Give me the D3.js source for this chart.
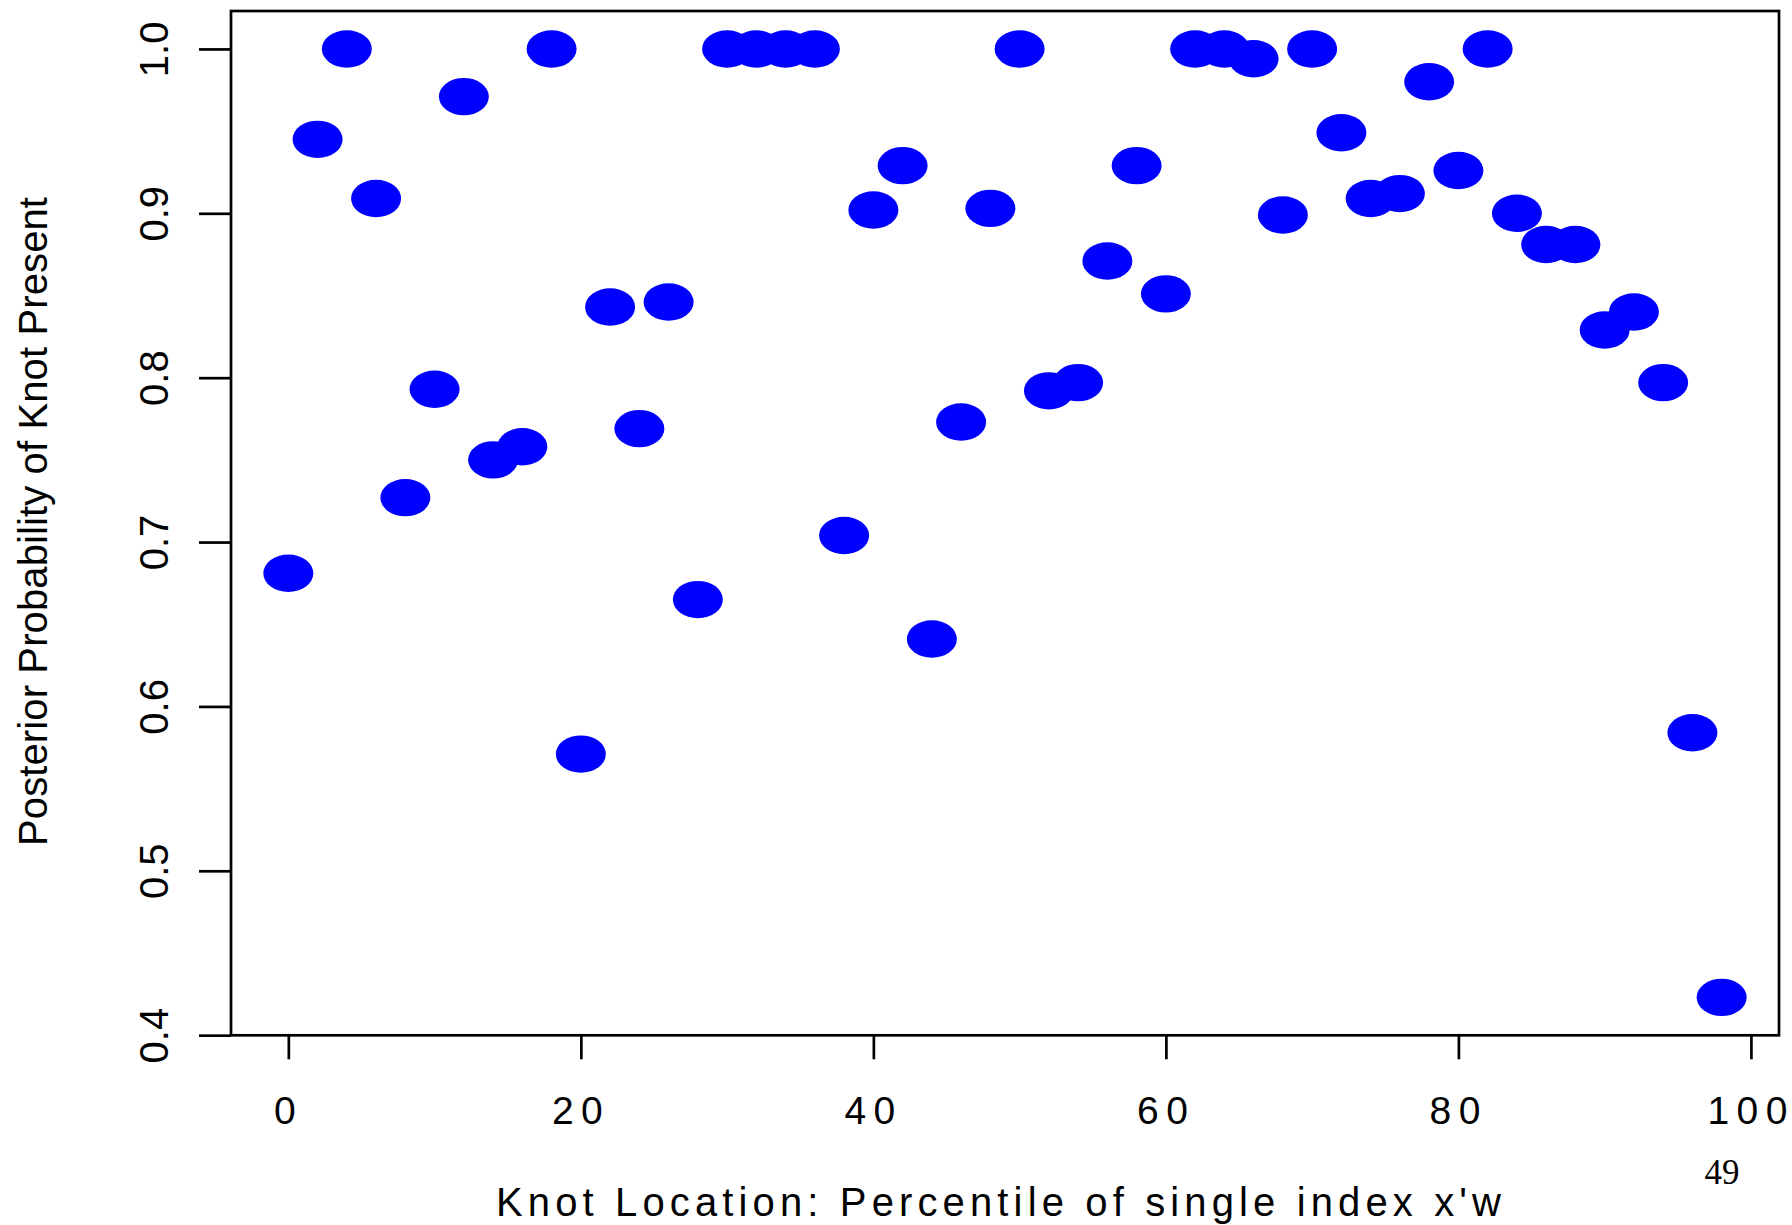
<!DOCTYPE html>
<html>
<head>
<meta charset="utf-8">
<script src="https://cdn.jsdelivr.net/npm/d3@7"></script>
<style>
  html, body { margin: 0; padding: 0; background: #fff; }
  svg { display: block; }
</style>
</head>
<body>
<script>
// ---- data ----
const knotLocation = [0, 2, 4, 6, 8, 10, 12, 14, 16, 18,
                      20, 22, 24, 26, 28, 30, 32, 34, 36, 38,
                      40, 42, 44, 46, 48, 50, 52, 54, 56, 58,
                      60, 62, 64, 66, 68, 70, 72, 74, 76, 78,
                      80, 82, 84, 86, 88, 90, 92, 94, 96, 98];
const posteriorProb = [0.681, 0.945, 1.000, 0.909, 0.727, 0.793, 0.971, 0.750, 0.758, 1.000,
                       0.571, 0.843, 0.769, 0.846, 0.665, 1.000, 1.000, 1.000, 1.000, 0.704,
                       0.902, 0.929, 0.641, 0.773, 0.903, 1.000, 0.792, 0.797, 0.871, 0.929,
                       0.851, 1.000, 1.000, 0.994, 0.899, 1.000, 0.949, 0.909, 0.912, 0.980,
                       0.926, 1.000, 0.900, 0.881, 0.881, 0.829, 0.840, 0.797, 0.584, 0.423];
const xTicks = [0, 20, 40, 60, 80, 100];
const yTicks = [0.4, 0.5, 0.6, 0.7, 0.8, 0.9, 1.0];
const xTitle = "Knot Location: Percentile of single index x'w";
const yTitle = "Posterior Probability of Knot Present";
const pageNumber = "49";

// ---- layout ----
const W = 1792, H = 1225;
const plot = { left: 231, right: 1779, top: 11, bottom: 1035.3 };
const lw = 2.7;

function rDomain(vals) {
  const [mn, mx] = d3.extent(vals);
  const pad = (mx - mn) * 0.04;
  return [mn - pad, mx + pad];
}

const x = d3.scaleLinear().domain(rDomain(knotLocation)).range([plot.left, plot.right]);
const y = d3.scaleLinear().domain(rDomain(posteriorProb)).range([plot.bottom, plot.top]);

const svg = d3.select("body").append("svg")
  .attr("width", W).attr("height", H)
  .attr("viewBox", `0 0 ${W} ${H}`);

svg.append("rect").attr("width", W).attr("height", H).attr("fill", "#fff");

const pts = knotLocation.map((k, i) => ({ k, p: posteriorProb[i] }));

// points
svg.append("g").selectAll("ellipse")
  .data(pts).enter().append("ellipse")
  .attr("cx", d => x(d.k))
  .attr("cy", d => y(d.p))
  .attr("rx", 25)
  .attr("ry", 18.7)
  .attr("fill", "#0000ff");

// box
svg.append("rect")
  .attr("x", plot.left).attr("y", plot.top)
  .attr("width", plot.right - plot.left)
  .attr("height", plot.bottom - plot.top)
  .attr("fill", "none").attr("stroke", "#000").attr("stroke-width", lw);

const font = "'Liberation Sans', Arial, Helvetica, sans-serif";

// y axis
const yAxis = svg.append("g")
  .attr("transform", `translate(${plot.left},0)`)
  .call(d3.axisLeft(y).tickValues(yTicks).tickFormat(d3.format(".1f")).tickSize(32).tickSizeOuter(0));
yAxis.select(".domain").remove();
yAxis.selectAll(".tick line").attr("stroke", "#000").attr("stroke-width", lw);
yAxis.selectAll(".tick text")
  .attr("x", null).attr("dy", null)
  .attr("transform", "translate(-62.7,0) rotate(-90)")
  .attr("text-anchor", "middle")
  .attr("font-family", font)
  .attr("font-size", 40)
  .attr("fill", "#000");

// x axis
const xAxis = svg.append("g")
  .attr("transform", `translate(0,${plot.bottom})`)
  .call(d3.axisBottom(x).tickValues(xTicks).tickFormat(d3.format("d")).tickSize(24).tickSizeOuter(0));
xAxis.select(".domain").remove();
xAxis.selectAll(".tick line").attr("stroke", "#000").attr("stroke-width", lw);
xAxis.selectAll(".tick text")
  .attr("x", -4)
  .attr("y", 88.7).attr("dy", null)
  .attr("text-anchor", "middle")
  .attr("font-family", font)
  .attr("font-size", 39)
  .attr("fill", "#000")
  .each(function () {
    const n = this.textContent.length;
    if (n > 1) {
      const natural = this.getComputedTextLength();
      d3.select(this)
        .attr("textLength", natural + (n - 1) * 7.5)
        .attr("lengthAdjust", "spacing");
    }
  });
svg.selectAll(".tick").attr("font-family", font);

// axis titles
svg.append("text")
  .attr("x", 496).attr("y", 1216)
  .attr("text-anchor", "start")
  .attr("font-family", font)
  .attr("font-size", 40)
  .attr("textLength", 1005)
  .attr("lengthAdjust", "spacing")
  .attr("fill", "#000")
  .text(xTitle);

svg.append("text")
  .attr("transform", "translate(47,846) rotate(-90)")
  .attr("text-anchor", "start")
  .attr("font-family", font)
  .attr("font-size", 40)
  .attr("textLength", 649)
  .attr("lengthAdjust", "spacing")
  .attr("fill", "#000")
  .text(yTitle);

// page number
svg.append("text")
  .attr("x", 1722).attr("y", 1184)
  .attr("text-anchor", "middle")
  .attr("font-family", "'Liberation Serif', 'Times New Roman', serif")
  .attr("font-size", 35)
  .attr("fill", "#000")
  .text(pageNumber);
</script>
</body>
</html>
